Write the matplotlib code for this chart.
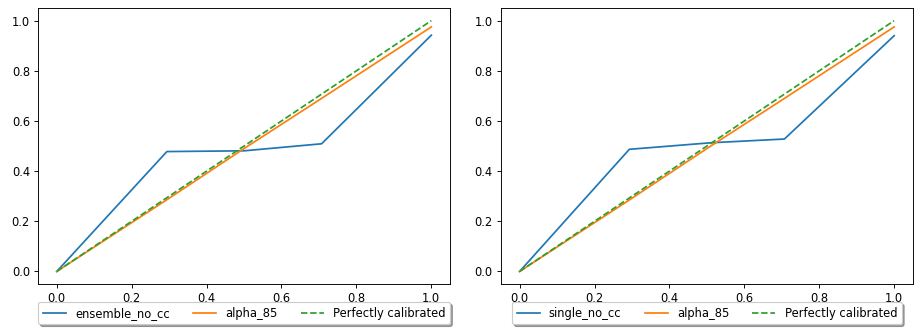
import matplotlib
matplotlib.use("Agg")
import matplotlib.pyplot as plt

# Left panel data
left_label = "ensemble_no_cc"
left_x = [0.0, 0.294, 0.5, 0.707, 1.0]
left_y = [0.0, 0.478, 0.481, 0.509, 0.942]

# Right panel data
right_label = "single_no_cc"
right_x = [0.0, 0.293, 0.51, 0.707, 1.0]
right_y = [0.0, 0.487, 0.513, 0.528, 0.940]

# alpha_85 curve (both panels)
alpha_label = "alpha_85"
alpha_x = [0.0, 0.293, 0.5, 0.707, 1.0]
alpha_y = [0.0, 0.285, 0.49, 0.69, 0.975]

# Perfect calibration
perfect_label = "Perfectly calibrated"
perfect_x = [0.0, 1.0]
perfect_y = [0.0, 1.0]

DPI = 83.1
fig = plt.figure(figsize=(914 / DPI, 332 / DPI), dpi=DPI)
ax1 = fig.add_axes([0.0416, 0.1446, 0.4508, 0.831])
ax2 = fig.add_axes([0.548, 0.1446, 0.4508, 0.831])

for ax, lbl, xs, ys in [(ax1, left_label, left_x, left_y), (ax2, right_label, right_x, right_y)]:
    ax.plot(xs, ys, color="#1f77b4", label=lbl)
    ax.plot(alpha_x, alpha_y, color="#ff7f0e", label=alpha_label)
    ax.plot(perfect_x, perfect_y, "--", color="#2ca02c", label=perfect_label)
    ax.legend(loc="upper center", bbox_to_anchor=(0.5, -0.065), ncol=3, shadow=True,
              fancybox=True, borderaxespad=0, handlelength=2.0, columnspacing=2.0)

fig.savefig("out.png", dpi=DPI)
